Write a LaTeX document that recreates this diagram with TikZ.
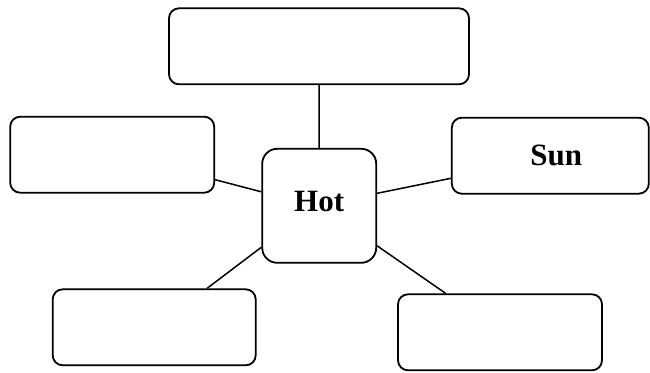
\documentclass[tikz,border=0pt]{standalone}
\usepackage{fontspec}
\setmainfont{Liberation Serif}
\usepackage{tikz}
\usetikzlibrary{calc}

\tikzset{
    box/.style={draw, line width=1.8pt, rounded corners=10pt, inner sep=0pt,
        minimum width=#1, minimum height=76pt},
    hub/.style={draw, line width=1.8pt, rounded corners=15pt, inner sep=0pt,
        minimum width=114pt, minimum height=114pt},
    word/.style={font=\bfseries\fontsize{31}{31}\selectfont},
    link/.style={line width=1.5pt}
}

\begin{document}
\begin{tikzpicture}[x=1pt,y=-1pt]
            \useasboundingbox (0,0) rectangle (650,372);

            \node[box=300pt] (top) at (319,46.3) {};
            \node[box=204pt] (left) at (112.2,154.7) {};
            \node[box=197pt, word, text height=20pt, text depth=1pt] (sun) at (550.3,155.7) {\hspace*{12pt}Sun};
            \node[hub, word, text height=20pt, text depth=8pt] (hot) at (319.2,205.8) {Hot};
            \node[box=203pt] (botleft) at (154.2,327.3) {};
            \node[box=204pt] (botright) at (500,332.3) {};

            \draw[link] (hot.north)-- (top.south);
            \draw[link] ([yshift=14pt]hot.west)-- ([yshift=-25pt]left.east);
            \draw[link] ([yshift=12.5pt]hot.east)-- ([yshift=-22.6pt]sun.west);
            \draw[link] ([yshift=-41.5pt]hot.west)-- ([xshift=52.8pt]botleft.north);
            \draw[link] ([yshift=-40pt]hot.east)-- ([xshift=-54.3pt]botright.north);
        \end{tikzpicture}
\end{document}
